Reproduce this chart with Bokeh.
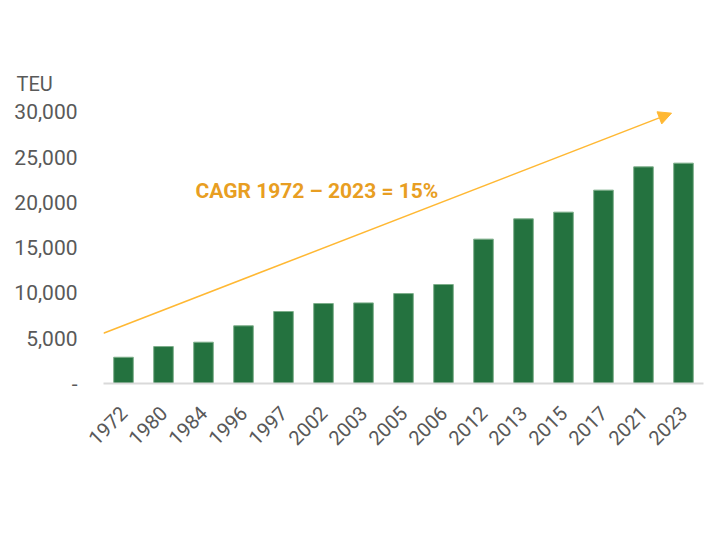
from bokeh.plotting import figure
from bokeh.models import (FactorRange, Range1d, FixedTicker, CustomJSTickFormatter,
                          Label, Arrow, NormalHead, ColumnDataSource)
from bokeh.embed import file_html
from bokeh.resources import INLINE
import math

# ---- data ----
years = ["1972", "1980", "1984", "1996", "1997", "2002", "2003", "2005",
         "2006", "2012", "2013", "2015", "2017", "2021", "2023"]
teu = [2900, 4080, 4560, 6370, 7950, 8830, 8900, 9930,
       10930, 15940, 18180, 18920, 21350, 23920, 24330]
y_ticks = [0, 5000, 10000, 15000, 20000, 25000, 30000]
unit_label = "TEU"
cagr_text = "CAGR 1972 \u2013 2023 = 15%"
# trend arrow (synthetic category coordinate, TEU)
arrow_start = (0.0, 5550)
arrow_end = (14.2, 29850)

src = ColumnDataSource(dict(year=years, teu=teu))

p = figure(x_range=FactorRange(*years), y_range=Range1d(0, 31800),
           width=706, height=549, output_backend="svg", toolbar_location=None,
           min_border_left=103, min_border_right=3, min_border_top=95,
           min_border_bottom=166, title=unit_label)
p.outline_line_color = None
p.background_fill_color = "white"
p.border_fill_color = "white"
p.xgrid.grid_line_color = None
p.ygrid.grid_line_color = None

# unit label as title, shifted over the tick labels
p.title.align = "left"
p.title.offset = -87
p.title.standoff = 0
p.title.text_font = "Roboto"
p.title.text_font_style = "normal"
p.title.text_font_size = "20px"
p.title.text_color = "#595959"

p.vbar(x="year", top="teu", width=0.49, source=src,
       fill_color="#24723F", line_color="#7DAE8A", line_width=1)

# y axis
p.yaxis.ticker = FixedTicker(ticks=y_ticks)
p.yaxis.formatter = CustomJSTickFormatter(code="""
    if (tick == 0) { return '-'; }
    return tick.toString().replace(/\\B(?=(\\d{3})+(?!\\d))/g, ',');
""")
p.yaxis.axis_line_color = None
p.yaxis.major_tick_line_color = None
p.yaxis.minor_tick_line_color = None
p.yaxis.major_tick_out = 0
p.yaxis.major_label_standoff = 26
p.yaxis.major_label_text_font = "Roboto"
p.yaxis.major_label_text_font_size = "21px"
p.yaxis.major_label_text_color = "#595959"

# x axis
p.xaxis.axis_line_color = "#D9D9D9"
p.xaxis.axis_line_width = 2
p.xaxis.major_tick_line_color = None
p.xaxis.minor_tick_line_color = None
p.xaxis.major_tick_out = 0
p.xaxis.major_label_standoff = 26
p.xaxis.major_label_orientation = math.pi / 4
p.xaxis.major_label_text_font = "Roboto"
p.xaxis.major_label_text_font_size = "20px"
p.xaxis.major_label_text_color = "#595959"

# trend arrow
p.add_layout(Arrow(x_start=arrow_start[0], y_start=arrow_start[1],
                   x_end=arrow_end[0], y_end=arrow_end[1],
                   line_color="#FFB833", line_width=1.5,
                   end=NormalHead(size=13, fill_color="#FFB833", line_color="#FFB833")))

# CAGR annotation
p.add_layout(Label(x=2.3, y=21250, text=cagr_text, text_font="Roboto",
                   text_font_style="bold", text_font_size="21px",
                   text_color="#E89E22", text_baseline="middle", text_align="left"))

open("out.html", "w").write(file_html(p, INLINE))
